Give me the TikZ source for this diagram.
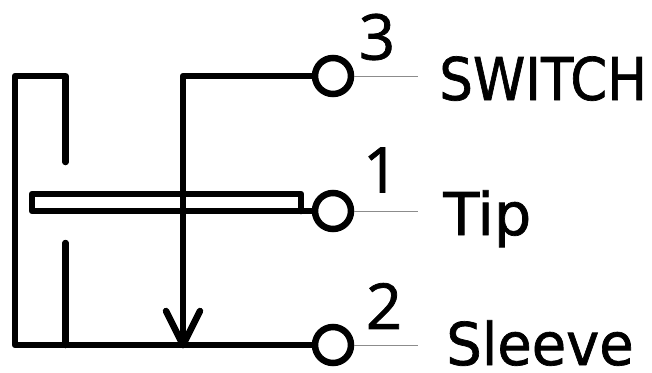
\documentclass[tikz,border=0pt]{standalone}
\usepackage{fontspec}
\setmainfont{DejaVu Sans}
\newfontfamily\labelfont[RawFeature={embolden=1.2}]{DejaVu Sans}
\newfontfamily\pinfont[RawFeature={embolden=1.2}]{Open Sans}
\tikzset{
    wire/.style={line width=0.13cm,line cap=round,line join=round},
    lead/.style={line width=0.02cm,black!45},
    term/.style={circle,draw,line width=0.13cm,minimum size=0.72cm,inner sep=0pt},
    pinno/.style={inner sep=0pt,font=\pinfont\fontsize{36}{36}\selectfont},
    jacklabel/.style={inner sep=0pt,anchor=base west,font=\labelfont\fontsize{33.5}{34}\selectfont}
}
\begin{document}
\begin{tikzpicture}[x=0.02cm,y=-0.02cm]
        \useasboundingbox (0,0) rectangle (652,372);
        % terminals
        \node[term] (t3) at (333,76) {};
        \node[term] (t1) at (333,211) {};
        \node[term] (t2) at (333,345) {};
        \coordinate (e3) at (418,76);
        \coordinate (e1) at (418,211);
        \coordinate (e2) at (418,345);
        \draw[lead] (t3) -- (e3);
        \draw[lead] (t1) -- (e1);
        \draw[lead] (t2) -- (e2);
        % frame and stems
        \coordinate (stemtop) at (65.5,162);
        \coordinate (stembot) at (65.5,243);
        \draw[wire] (stemtop) -- (65.5,76) -- (15,76) -- (15,345) -- (t2.west);
        \draw[wire] (stembot) -- (65.5,345);
        % contact blade
        \draw[wire] (t1.west) -- (32,211) -- (32,194) -- (301,194) -- (301,211);
        % arrow
        \coordinate (tip) at (183,345);
        \draw[wire] (t3.west) -- (183,76) -- (tip);
        \draw[wire] (166,311) -- (tip) -- (200,311);
        % labels
        \node[pinno] (n3) at (377,37) {3};
        \node[pinno] (n1) at (381,170) {1};
        \node[pinno] (n2) at (384,306) {2};
        \node[jacklabel,xscale=0.9] (lsw) at (439,100) {SWITCH};
        \node[jacklabel] (ltip) at (443,235) {Tip};
        \node[jacklabel,xscale=0.95] (lsl) at (446,365) {Sleeve};
\end{tikzpicture}
\end{document}
